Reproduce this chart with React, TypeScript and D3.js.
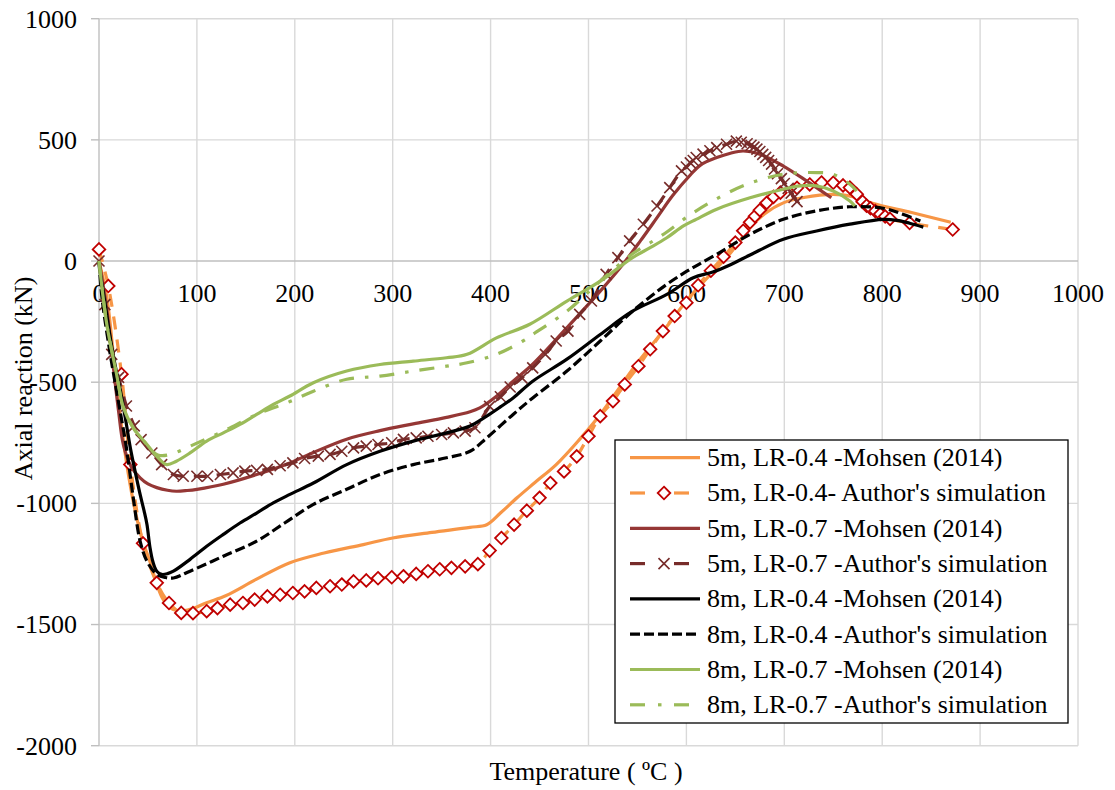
import React from "react";
import * as d3 from "d3";

// ---------- data (Temperature ºC, Axial reaction kN) ----------
const xTicks = [0, 100, 200, 300, 400, 500, 600, 700, 800, 900, 1000];
const yTicks = [1000, 500, 0, -500, -1000, -1500, -2000];

const mohsen5m04: [number, number][] = [
  [0, 0], [8, -150], [15, -400], [22, -650], [30, -880], [38, -1050], [45, -1160], [52, -1240],
  [58, -1320], [64, -1385], [72, -1430], [82, -1445], [95, -1435], [110, -1410], [130, -1380],
  [160, -1315], [195, -1245], [230, -1205], [270, -1170], [300, -1143], [340, -1120], [379, -1099],
  [396, -1088], [410, -1040], [427, -977], [445, -915], [467, -840], [490, -740], [512, -633],
  [550, -420], [580, -270], [600, -165], [620, -75], [644, 28], [665, 138], [680, 195], [699, 240],
  [720, 262], [750, 275], [770, 266], [790, 238], [830, 200], [870, 160],
];

const author5m04: [number, number][] = [
  [0, 48], [9.5, -103], [23, -467], [32, -840], [45, -1165], [59, -1328], [71.5, -1411], [84, -1452],
  [96, -1453], [110, -1445], [121, -1432], [134, -1418], [147, -1411], [159, -1397], [172, -1384],
  [185, -1377], [198, -1370], [210, -1363], [222, -1349], [236, -1342], [248, -1335], [260, -1322],
  [273, -1318], [285, -1309], [299, -1305], [311, -1301], [324, -1291], [336, -1280], [348, -1272],
  [360, -1266], [374, -1260], [387, -1251], [399, -1195], [411, -1143], [424, -1088], [437, -1030],
  [450, -977], [461, -916], [475, -868], [488, -806], [500, -723], [512, -640], [525, -578],
  [537, -509], [551, -434], [563, -364], [576, -289], [588, -227], [600, -172], [612, -100],
  [625, -40], [638, 18], [650, 76], [658, 125], [665, 160], [670, 185], [675, 210], [682, 240],
  [689, 265], [696, 282], [713, 302], [726, 316], [738, 324], [750, 323], [760, 312], [767, 303],
  [774, 276], [780, 245], [784, 228], [788, 218], [793, 206], [798, 194], [803, 184], [808, 174],
  [828, 157], [872, 130],
];

const mohsen5m07: [number, number][] = [
  [0, 0], [8, -200], [15, -450], [20, -620], [25, -760], [33, -850], [42, -895], [50, -920],
  [59, -935], [70, -946], [79, -950], [90, -947], [100, -942], [127, -921], [161, -881],
  [195, -833], [219, -790], [253, -735], [287, -700], [321, -672], [355, -645], [379, -622],
  [389, -606], [406, -558], [423, -496], [443, -426], [478, -275], [512, -124], [535, -14],
  [553, 83], [570, 179], [586, 270], [604, 355], [614, 395], [631, 427], [645, 445], [658, 454],
  [675, 441], [699, 392], [723, 330], [748, 261],
];

const author5m07: [number, number][] = [
  [0, 0], [6, -180], [13, -385], [20, -480], [28, -598], [36, -680], [43, -737], [54, -792],
  [64, -840], [76, -881], [86, -888], [100, -888], [111, -888], [124, -881], [137, -874],
  [149, -867], [161, -864], [172, -860], [185, -845], [198, -833], [210, -815], [224, -805],
  [236, -798], [248, -785], [260, -771], [273, -764], [285, -757], [299, -750], [311, -736],
  [324, -730], [336, -723], [350, -716], [362, -709], [374, -702], [384, -688], [399, -600],
  [410, -560], [420, -520], [432, -482], [443, -441], [456, -385], [467, -330], [479, -289],
  [491, -220], [503, -165], [518, -55], [530, 14], [542, 83], [556, 152], [570, 227],
  [583, 303], [595, 372], [600, 388], [604, 405], [607, 415], [610, 427], [617, 441],
  [624, 455], [631, 468], [641, 482], [651, 495], [656, 490], [662, 484], [666, 478],
  [669, 470], [672, 462], [675, 452], [678, 440], [681, 428], [684, 415], [687, 400],
  [690, 380], [693, 360], [697, 340], [700, 320], [704, 300], [707, 280], [710, 262], [713, 245],
];

const mohsen8m04: [number, number][] = [
  [0, 0], [1, -41], [6, -170], [11, -303], [16, -420], [22, -537], [27, -650], [32, -771],
  [37, -870], [42, -963], [46, -1030], [49, -1087], [52, -1180], [55, -1240], [59, -1280],
  [64, -1293], [70, -1290], [76, -1280], [93, -1231], [110, -1177], [127, -1128], [144, -1081],
  [161, -1040], [178, -998], [195, -963], [219, -916], [253, -840], [287, -785], [321, -743],
  [355, -709], [379, -681], [396, -640], [410, -602], [423, -565], [443, -496], [478, -405],
  [512, -303], [545, -207], [580, -138], [607, -69], [627, -45], [645, -15], [665, 25],
  [699, 90], [733, 124], [767, 152], [801, 172], [815, 168], [828, 156], [842, 140],
];

const author8m04: [number, number][] = [
  [0, 0], [3, -150], [11, -372], [21, -606], [28, -771], [35, -977], [42, -1156], [49, -1239],
  [59, -1293], [68, -1306], [76, -1308], [93, -1280], [127, -1218], [161, -1156], [190, -1080],
  [219, -1004], [253, -942], [287, -881], [321, -840], [355, -812], [379, -785], [396, -730],
  [423, -633], [443, -565], [478, -454], [512, -330], [545, -207], [580, -96], [604, -34],
  [631, 28], [665, 110], [699, 172], [733, 207], [767, 224], [801, 218], [821, 193], [839, 165],
];

const mohsen8m07: [number, number][] = [
  [0, 0], [8, -262], [18, -468], [25, -606], [35, -688], [49, -757], [59, -806], [69, -840],
  [79, -826], [93, -792], [110, -743], [127, -709], [144, -674], [161, -633], [178, -592],
  [195, -557], [219, -502], [253, -454], [287, -427], [321, -413], [355, -399], [376, -385],
  [406, -317], [440, -261], [478, -165], [512, -83], [545, 14], [563, 55], [580, 96],
  [597, 145], [610, 172], [631, 214], [665, 261], [699, 296], [716, 310], [733, 310],
  [750, 289], [767, 248], [772, 227],
];

const author8m07: [number, number][] = [
  [0, 0], [8, -262], [18, -468], [25, -606], [35, -688], [49, -757], [60, -800], [72, -799],
  [93, -764], [127, -702], [161, -633], [195, -580], [219, -537], [253, -488], [287, -475],
  [321, -454], [355, -434], [376, -420], [406, -385], [433, -330], [443, -303], [478, -207],
  [512, -83], [545, 30], [566, 83], [580, 120], [600, 180], [627, 248], [662, 317],
  [699, 358], [733, 365], [750, 358], [767, 317], [774, 289],
];

const legendLabels = [
  "5m, LR-0.4 -Mohsen (2014)",
  "5m, LR-0.4- Author's simulation",
  "5m, LR-0.7 -Mohsen (2014)",
  "5m, LR-0.7 -Author's simulation",
  "8m, LR-0.4 -Mohsen (2014)",
  "8m, LR-0.4 -Author's simulation",
  "8m, LR-0.7 -Mohsen (2014)",
  "8m, LR-0.7 -Author's simulation",
];

// ---------- styles ----------
const ORANGE = "#F79646";
const RED = "#C00000";
const BROWN = "#953735";
const BROWN_D = "#772C2A";
const BLACK = "#000000";
const GREEN = "#9BBB59";
const FONT = "'Liberation Serif', 'Times New Roman', serif";
const LW = 3.2;

type Series = {
  data: [number, number][];
  color: string;
  dash?: string;
  marker?: "diamond" | "cross";
  label: string;
};

const series: Series[] = [
  { data: mohsen5m04, color: ORANGE, label: legendLabels[0] },
  { data: author5m04, color: ORANGE, dash: "13,10", marker: "diamond", label: legendLabels[1] },
  { data: mohsen5m07, color: BROWN, label: legendLabels[2] },
  { data: author5m07, color: BROWN_D, dash: "13,10", marker: "cross", label: legendLabels[3] },
  { data: mohsen8m04, color: BLACK, label: legendLabels[4] },
  { data: author8m04, color: BLACK, dash: "10,4", label: legendLabels[5] },
  { data: mohsen8m07, color: GREEN, label: legendLabels[6] },
  { data: author8m07, color: GREEN, dash: "15,11,3.5,11", label: legendLabels[7] },
];

const W = 1115;
const H = 790;
const xS = d3.scaleLinear().domain([0, 1000]).range([99, 1078]);
const yS = d3.scaleLinear().domain([-2000, 1000]).range([745.7, 18.7]);

function Marker({ kind, cx, cy }: { kind: "diamond" | "cross"; cx: number; cy: number }) {
  if (kind === "diamond") {
    const r = 6.3;
    return (
      <path
        d={`M${cx},${cy - r}L${cx + r},${cy}L${cx},${cy + r}L${cx - r},${cy}Z`}
        fill="#fff"
        stroke={RED}
        strokeWidth={1.8}
      />
    );
  }
  const r = 5.5;
  return (
    <path
      d={`M${cx - r},${cy - r}L${cx + r},${cy + r}M${cx - r},${cy + r}L${cx + r},${cy - r}`}
      fill="none"
      stroke={BROWN_D}
      strokeWidth={1.6}
    />
  );
}

export default function App() {
  const line = d3
    .line<[number, number]>()
    .x((d) => xS(d[0]))
    .y((d) => yS(d[1]))
    .curve(d3.curveCatmullRom.alpha(0.5));

  const x0 = xS(0);
  const xEnd = xS(1000);
  const yTop = yS(1000);
  const yBot = yS(-2000);
  const yZero = yS(0);

  // legend geometry
  const lgX = 615, lgY = 440, lgW = 453, lgH = 283;
  const rowH = 35.3;
  const row0 = 457.7;

  return (
    <svg
      width={W}
      height={H}
      viewBox={`0 0 ${W} ${H}`}
      style={{ position: "absolute", left: 0, top: 0, display: "block", background: "#fff" }}
      fontFamily={FONT}
    >
      <rect x={0} y={0} width={W} height={H} fill="#fff" />
      {/* gridlines */}
      {xTicks.filter((t) => t !== 0).map((t) => (
        <line key={"gx" + t} x1={xS(t)} x2={xS(t)} y1={yTop} y2={yBot} stroke="#d9d9d9" strokeWidth={1.4} />
      ))}
      {yTicks.filter((t) => t !== 0).map((t) => (
        <line key={"gy" + t} x1={x0} x2={xEnd} y1={yS(t)} y2={yS(t)} stroke="#d9d9d9" strokeWidth={1.4} />
      ))}
      {/* axes */}
      <line x1={x0} x2={x0} y1={yTop} y2={yBot} stroke="#bfbfbf" strokeWidth={1.4} />
      <line x1={x0} x2={xEnd} y1={yZero} y2={yZero} stroke="#bfbfbf" strokeWidth={1.4} />
      {yTicks.map((t) => (
        <line key={"ty" + t} x1={x0 - 8} x2={x0} y1={yS(t)} y2={yS(t)} stroke="#bfbfbf" strokeWidth={1.4} />
      ))}
      {/* tick labels */}
      {yTicks.map((t) => (
        <text key={"ly" + t} x={77} y={yS(t)} dy="0.34em" textAnchor="end" fontSize={26} fill="#000">
          {t}
        </text>
      ))}
      {xTicks.map((t) => (
        <text key={"lx" + t} x={xS(t)} y={302} textAnchor="middle" fontSize={26} fill="#000">
          {t}
        </text>
      ))}
      {/* series */}
      {series.map((s, i) => (
        <g key={"s" + i}>
          <path d={line(s.data) || ""} fill="none" stroke={s.color} strokeWidth={LW} strokeDasharray={s.dash} strokeLinejoin="round" />
          {s.marker &&
            s.data.map((d, j) => <Marker key={j} kind={s.marker!} cx={xS(d[0])} cy={yS(d[1])} />)}
        </g>
      ))}
      {/* axis titles */}
      <text x={586} y={780} textAnchor="middle" fontSize={26} fill="#000">
        Temperature ( ºC )
      </text>
      <text transform="translate(32,378.5) rotate(-90)" textAnchor="middle" fontSize={26} fill="#000">
        Axial reaction (kN)
      </text>
      {/* legend */}
      <rect x={lgX} y={lgY} width={lgW} height={lgH} fill="#fff" stroke="#000" strokeWidth={1.3} />
      {series.map((s, i) => {
        const cy = row0 + i * rowH;
        let sample: React.ReactNode;
        if (s.marker) {
          sample = (
            <g>
              <line x1={630} x2={645} y1={cy} y2={cy} stroke={s.color} strokeWidth={LW} />
              <line x1={674} x2={689} y1={cy} y2={cy} stroke={s.color} strokeWidth={LW} />
              <Marker kind={s.marker} cx={664} cy={cy} />
            </g>
          );
        } else if (s.dash && s.dash.split(",").length > 2) {
          sample = (
            <g>
              <line x1={630} x2={645} y1={cy} y2={cy} stroke={s.color} strokeWidth={LW} />
              <line x1={658} x2={661.5} y1={cy} y2={cy} stroke={s.color} strokeWidth={LW} />
              <line x1={674} x2={689} y1={cy} y2={cy} stroke={s.color} strokeWidth={LW} />
            </g>
          );
        } else {
          sample = (
            <line x1={630} x2={700} y1={cy} y2={cy} stroke={s.color} strokeWidth={LW} strokeDasharray={s.dash} />
          );
        }
        return (
          <g key={"lg" + i}>
            {sample}
            <text x={707} y={cy} dy="0.32em" fontSize={26} fill="#000">
              {s.label}
            </text>
          </g>
        );
      })}
    </svg>
  );
}
